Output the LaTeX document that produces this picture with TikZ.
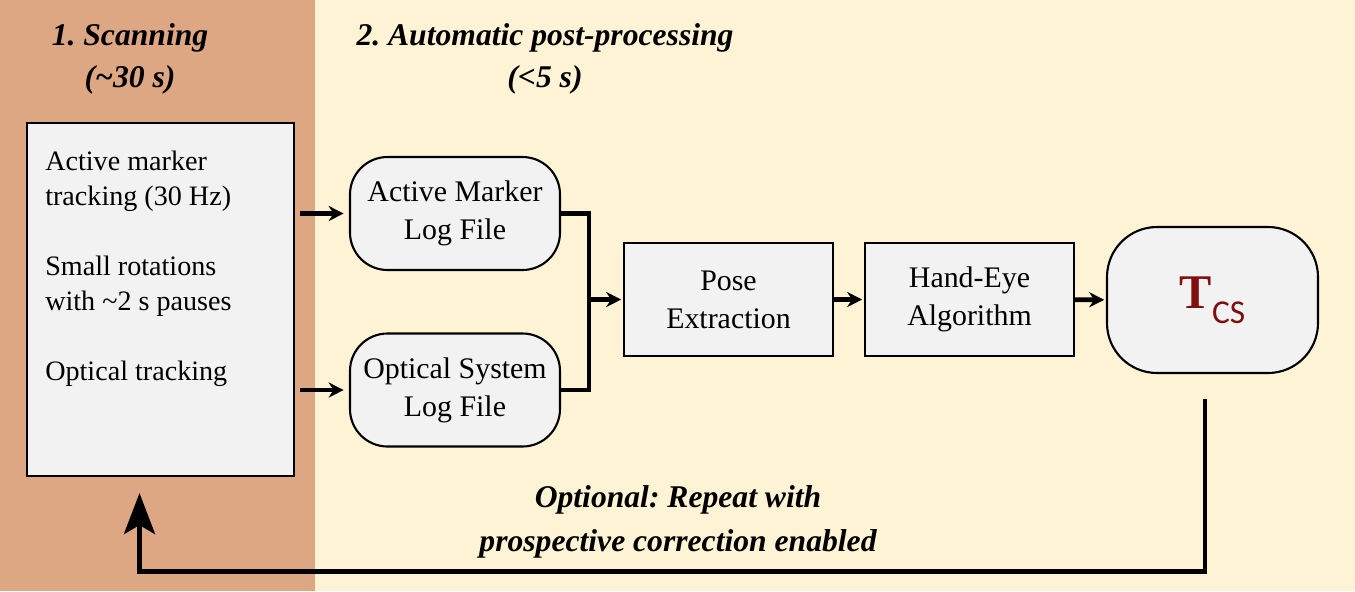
\documentclass[tikz,border=0pt]{standalone}
\usepackage{fontspec}
\setmainfont{Liberation Serif}
\newfontfamily\subfont{Carlito}
\usetikzlibrary{arrows.meta,positioning,calc}

\definecolor{scanbg}{RGB}{221,167,132}
\definecolor{postbg}{RGB}{254,244,213}
\definecolor{boxgray}{RGB}{242,242,242}
\definecolor{tcsred}{RGB}{128,14,14}

\newcommand{\phasefont}{\fontsize{18}{21}\selectfont\bfseries\itshape}
\frenchspacing

\begin{document}
\begin{tikzpicture}[>=Stealth,
  stepbox/.style={draw,line width=1.2pt,fill=boxgray,minimum width=4.18cm,minimum height=2.26cm,align=center,inner sep=0pt,font=\fontsize{17}{21.5}\selectfont},
  filebox/.style={stepbox,minimum width=4.2cm,rounded corners=0.75cm},
  flow/.style={-{Stealth[length=0.3cm,width=0.3cm]},line width=2.6pt},
  link/.style={line width=2.6pt}]
% phases in the background
\fill[scanbg] (0,0) rectangle (6.3,-11.82);
\fill[postbg] (6.3,0) rectangle (27.1,-11.82);
\useasboundingbox (0,0) rectangle (27.1,-11.82);
\node[font=\phasefont,align=center] (ph1) at (2.6,-1.17) {1. Scanning\\[0.1cm](\textasciitilde30 s)};
\node[font=\phasefont,align=center] (ph2) at (10.9,-1.17) {2. Automatic post-processing\\[0.1cm](<5 s)};

% scanning box
\node[draw,line width=1.2pt,fill=boxgray,minimum width=5.34cm,minimum height=7.06cm] (scan) at (3.21,-5.99) {};
\node[below right=0.58cm and 0.38cm of scan.north west,inner sep=0pt,align=left,font=\fontsize{16}{19.9}\selectfont] (scantxt)
  {Active marker\\tracking (30 Hz)\\[0.7cm]Small rotations\\with \textasciitilde2 s pauses\\[0.7cm]Optical tracking};

% log files and processing steps
\node[filebox] (amlf) at (9.1,-4.27) {Active Marker\\Log File};
\node[filebox] (oslf) at (9.1,-7.8) {Optical System\\Log File};
\node[stepbox] (pose) at (14.57,-5.99) {Pose\\Extraction};
\node[stepbox] (hand) at (19.39,-5.99) {Hand-Eye\\Algorithm};
\node[stepbox,minimum width=4.22cm,minimum height=2.92cm,rounded corners=1cm] (tcs) at (24.25,-6)
  {\textcolor{tcsred}{\fontsize{27.5}{30}\selectfont\bfseries T\raisebox{-0.3cm}{\subfont\mdseries\fontsize{19}{20}\selectfont CS}}};

\draw[flow,shorten <=3pt,shorten >=3pt] (scan.east |- amlf.west) -- (amlf.west);
\draw[flow,shorten <=3pt,shorten >=3pt] (scan.east |- oslf.west) -- (oslf.west);
\coordinate (merge) at ([xshift=0.56cm]amlf.east |- pose.west);
\draw[link] (amlf.east) -| (merge) |- (oslf.east);
\draw[flow,shorten >=1pt] (merge) -- (pose.west);
\draw[flow,shorten >=1pt] (pose) -- (hand);
\draw[flow,shorten >=1pt] (hand) -- (tcs);

% optional second pass
\draw[line width=2.8pt,-{Stealth[length=0.82cm,width=0.62cm,inset=0.18cm]}]
  ([xshift=-0.15cm,yshift=-0.5cm]tcs.south) |- ([xshift=-0.42cm,yshift=-1.88cm]scan.south) -- ([xshift=-0.42cm,yshift=-0.32cm]scan.south);
\node[font=\phasefont,align=center] (again) at (13.56,-10.44) {Optional: Repeat with\\[0.15cm]prospective correction enabled};
\end{tikzpicture}
\end{document}
